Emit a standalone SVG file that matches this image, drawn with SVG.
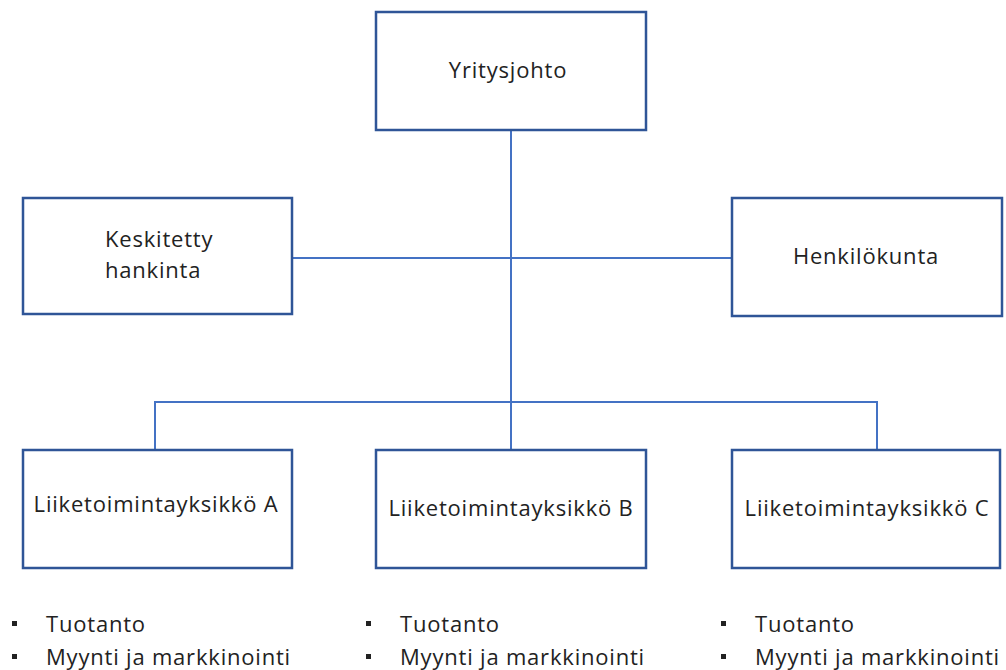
<svg xmlns="http://www.w3.org/2000/svg" width="1006" height="670" viewBox="0 0 1006 670">
  <style>
    .box { fill: #ffffff; stroke: #2F5597; stroke-width: 2.5; }
    .conn { fill: none; stroke: #4472C4; stroke-width: 2; }
    .lbl { font-family: "Open Sans", "DejaVu Sans", sans-serif; font-size: 22px; letter-spacing: 0.8px; fill: #222222; }
    .mid { text-anchor: middle; }
    .bul { fill: #222222; }
  </style>
  <rect width="1006" height="670" fill="#ffffff"/>

  <g id="connectors">
    <line class="conn" x1="511" y1="130" x2="511" y2="450"/>
    <line class="conn" x1="292" y1="258" x2="732" y2="258"/>
    <polyline class="conn" points="155,450 155,402 877,402 877,450"/>
  </g>

  <g id="yritysjohto">
    <rect class="box" x="376" y="12" width="270" height="118"/>
    <text class="lbl mid" x="508" y="78">Yritysjohto</text>
  </g>

  <g id="keskitetty-hankinta">
    <rect class="box" x="23" y="198" width="269" height="116"/>
    <text class="lbl" x="105" y="247">Keskitetty</text>
    <text class="lbl" x="105" y="278">hankinta</text>
  </g>

  <g id="henkilokunta">
    <rect class="box" x="732" y="198" width="270" height="118"/>
    <text class="lbl mid" x="866" y="264">Henkilökunta</text>
  </g>

  <g id="yksikko-a">
    <rect class="box" x="23" y="450" width="269" height="118"/>
    <text class="lbl mid" x="156" y="512">Liiketoimintayksikkö A</text>
  </g>

  <g id="yksikko-b">
    <rect class="box" x="376" y="450" width="270" height="118"/>
    <text class="lbl mid" x="511" y="516">Liiketoimintayksikkö B</text>
  </g>

  <g id="yksikko-c">
    <rect class="box" x="732" y="450" width="268" height="118"/>
    <text class="lbl mid" x="867" y="516">Liiketoimintayksikkö C</text>
  </g>

  <g id="lista-a">
    <rect class="bul" x="12" y="621" width="5" height="5"/>
    <rect class="bul" x="12" y="654" width="5" height="5"/>
    <text class="lbl" x="46" y="632">Tuotanto</text>
    <text class="lbl" x="46" y="665">Myynti ja markkinointi</text>
  </g>

  <g id="lista-b">
    <rect class="bul" x="366" y="621" width="5" height="5"/>
    <rect class="bul" x="366" y="654" width="5" height="5"/>
    <text class="lbl" x="400" y="632">Tuotanto</text>
    <text class="lbl" x="400" y="665">Myynti ja markkinointi</text>
  </g>

  <g id="lista-c">
    <rect class="bul" x="721" y="621" width="5" height="5"/>
    <rect class="bul" x="721" y="654" width="5" height="5"/>
    <text class="lbl" x="755" y="632">Tuotanto</text>
    <text class="lbl" x="755" y="665">Myynti ja markkinointi</text>
  </g>
</svg>
